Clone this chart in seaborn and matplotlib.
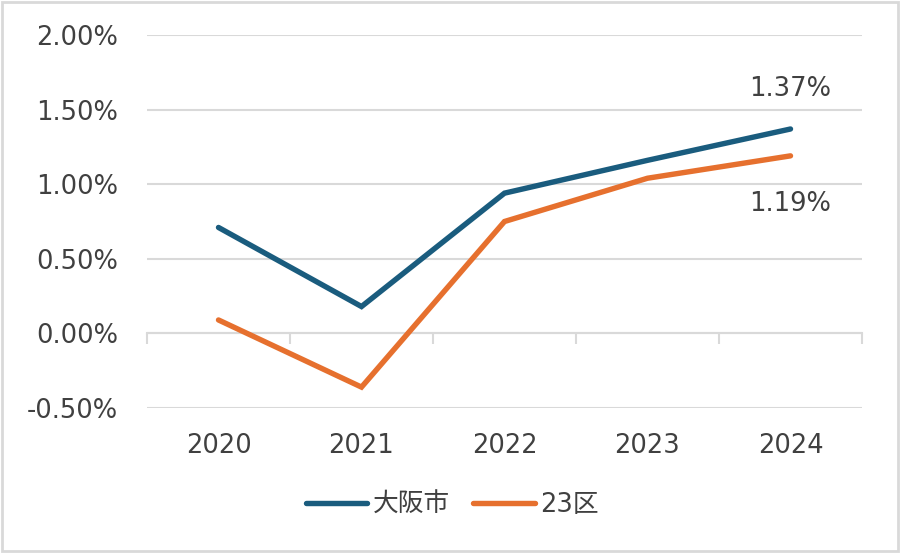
import numpy as np
import pandas as pd
import seaborn as sns
import matplotlib
matplotlib.use("Agg")
import matplotlib.pyplot as plt
from matplotlib.ticker import FuncFormatter, FixedLocator

years   = ["2020", "2021", "2022", "2023", "2024"]
osaka   = [0.71, 0.18, 0.94, 1.16, 1.37]
ku23    = [0.09, -0.36, 0.75, 1.04, 1.19]
names   = ["大阪市", "23区"]
colors  = ["#1a5c7e", "#e6702e"]

df = pd.DataFrame({
    "pos":   list(range(len(years))) * 2,
    "val":   osaka + ku23,
    "area":  [names[0]] * len(years) + [names[1]] * len(years),
})

sns.set_style("white")
plt.rcParams["font.family"] = ["DejaVu Sans", "Noto Sans CJK JP"]
txt = "#404040"
grid = "#d9d9d9"
fs = 18.5

fig = plt.figure(figsize=(9, 5.53), dpi=100)
ax = fig.add_axes([147/900, 1 - 408/553, (862-147)/900, (408-35)/553])

sns.lineplot(data=df, x="pos", y="val", hue="area", palette=colors,
             linewidth=3.9, ax=ax, legend=False)
for l in ax.lines:
    l.set_solid_capstyle("round")
    l.set_solid_joinstyle("miter")

ax.set_xlim(-0.5, 4.5)
ax.set_ylim(-0.5, 2.0)
ax.set_yticks(np.arange(-0.5, 2.01, 0.5))
ax.yaxis.set_major_formatter(FuncFormatter(lambda v, p: f"{v:.2f}%"))
ax.grid(axis="y", color=grid, linewidth=1.5)
ax.set_axisbelow(True)
for s in ax.spines.values():
    s.set_visible(False)
ax.set_xticks(range(len(years)))
ax.set_xticklabels(years)
ax.tick_params(axis="x", length=0, pad=18, labelsize=fs, labelcolor=txt)
ax.tick_params(axis="y", length=0, pad=21, labelsize=fs, labelcolor=txt)
ax.set_xlabel("")
ax.set_ylabel("")

# zero axis with category boundary ticks
sec = ax.secondary_xaxis(0.2)
sec.xaxis.set_major_locator(FixedLocator(np.arange(-0.5, 4.6, 1)))
sec.tick_params(length=8, width=1.5, color=grid, direction="out", labelbottom=False)
sec.spines["bottom"].set_color(grid)
sec.spines["bottom"].set_linewidth(1.5)

ax.text(4, 1.64, f"{osaka[-1]:.2f}%", ha="center", va="center", fontsize=fs, color=txt)
ax.text(4, 0.87, f"{ku23[-1]:.2f}%", ha="center", va="center", fontsize=fs, color=txt)

handles = [plt.Line2D([], [], color=c, linewidth=3.9, solid_capstyle="round") for c in colors]
fig.legend(handles, names, loc="center", bbox_to_anchor=(452/900, 1 - 505/553), ncol=2,
           frameon=False, fontsize=fs, handlelength=2.4, handletextpad=0.2,
           columnspacing=0.9, labelcolor=txt)

fig.patches.append(plt.Rectangle((0.002, 0.003), 0.996, 0.994, transform=fig.transFigure,
                                 fill=False, edgecolor=grid, linewidth=2))
fig.savefig("out.png", dpi=100, facecolor="white")
